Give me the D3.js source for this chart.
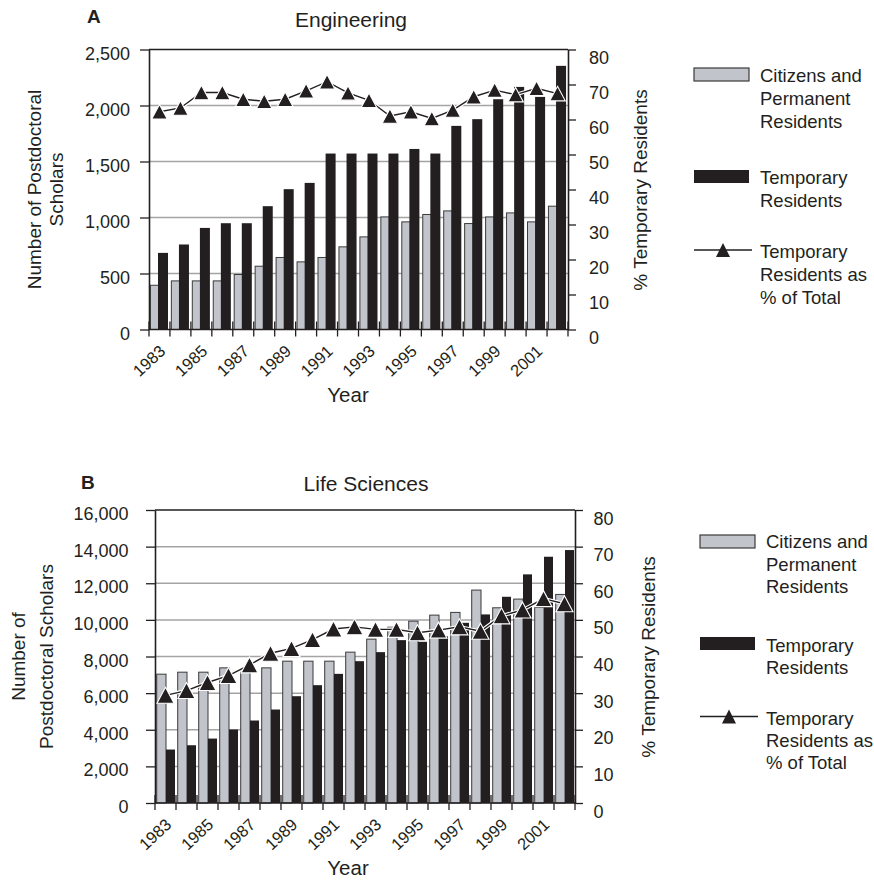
<!DOCTYPE html>
<html><head><meta charset="utf-8">
<script src="https://cdn.jsdelivr.net/npm/d3@7"></script>
<style>
body{margin:0;background:#fff}
svg{display:block}
text{font-family:"Liberation Sans",Arial,Helvetica,sans-serif;fill:#231f20}
</style>
</head><body>
<svg id="c" width="874" height="896"></svg>
<script>
// ---------------- DATA ----------------
const years = [1983,1984,1985,1986,1987,1988,1989,1990,1991,1992,1993,1994,1995,1996,1997,1998,1999,2000,2001,2002];
const yearLabels = [1983,1985,1987,1989,1991,1993,1995,1997,1999,2001];

// Panel A: Engineering
const engCitizens   = [395,434,434,434,491,565,643,604,643,738,827,1005,961,1027,1059,946,1005,1041,961,1101];
const engTemporary  = [684,759,907,949,949,1101,1253,1309,1571,1571,1571,1571,1612,1571,1818,1878,2056,2166,2077,2354];
const engPctTemporary = [62.2,63.3,67.7,67.7,65.8,65.2,65.8,68.2,70.8,67.6,65.5,61.0,62.2,60.3,62.7,66.5,68.4,67.1,68.9,67.4];
const engCountTicks = [0,500,1000,1500,2000,2500];

// Panel B: Life Sciences
const lsCitizens    = [7035,7144,7144,7380,7144,7380,7745,7745,7745,8238,8948,9600,9930,10260,10408,11627,10660,11135,10680,11390];
const lsTemporary   = [2919,3154,3518,4012,4504,5105,5832,6434,7052,7745,8238,8894,8804,9100,9839,10298,11261,12485,13447,13813];
const lsPctTemporary = [29.4,30.7,32.9,34.8,37.7,40.9,42.2,44.6,47.5,48.1,47.4,47.4,46.5,47.2,48.1,46.9,51.1,52.7,55.8,54.4];
const lsCountTicks = [0,2000,4000,6000,8000,10000,12000,14000,16000];

const pctTicks = [0,10,20,30,40,50,60,70,80];
const legendLabels = [
  ["Citizens and","Permanent","Residents"],
  ["Temporary","Residents"],
  ["Temporary","Residents as","% of Total"]
];

// ---------------- DRAW ----------------
const svg = d3.select("#c");
const INK = "#231f20", GRAY = "#c2c4cb";

function triPath(s, h){ return `M0,${-h/2}L${s/2},${h/2}L${-s/2},${h/2}Z`; }

function drawPanel(p){
  const g = svg.append("g");
  const x = d3.scaleBand().domain(years).range([p.left, p.right]);
  const xt = d3.scaleLinear().domain([0, years.length]).range([p.left, p.right]);
  const maxC = d3.max(p.countTicks);
  const yL = d3.scaleLinear().domain([0, maxC]).range([p.bottom, p.top]);
  const yR = d3.scaleLinear().domain([0, d3.max(pctTicks)]).range([p.bottom, p.top]);

  // gridlines
  g.selectAll(".grid").data(p.countTicks.filter(t => t > 0 && t < maxC)).join("line")
    .attr("x1", p.left).attr("x2", p.right)
    .attr("y1", d => yL(d)).attr("y2", d => yL(d))
    .attr("stroke", "#a4a4a4").attr("stroke-width", 1.5);

  // top border
  g.append("line").attr("x1", p.left).attr("x2", p.right)
    .attr("y1", yL(maxC)).attr("y2", yL(maxC))
    .attr("stroke", INK).attr("stroke-width", 1.6);

  // bars
  g.selectAll(".cit").data(years).join("rect")
    .attr("x", d => x(d) + p.grayOff).attr("width", p.grayW)
    .attr("y", (d,i) => yL(p.citizens[i]))
    .attr("height", (d,i) => yL(0) - yL(p.citizens[i]))
    .attr("fill", GRAY).attr("stroke", "#3b3b3b").attr("stroke-width", 1);
  g.selectAll(".tmp").data(years).join("rect")
    .attr("x", d => x(d) + p.blackOff).attr("width", p.blackW)
    .attr("y", (d,i) => yL(p.temporary[i]))
    .attr("height", (d,i) => yL(0) - yL(p.temporary[i]))
    .attr("fill", INK);

  // x ticks (crossing)
  g.selectAll(".xt").data(d3.range(years.length + 1)).join("line")
    .attr("x1", d => xt(d)).attr("x2", d => xt(d))
    .attr("y1", p.bottom - 8).attr("y2", p.bottom + 7)
    .attr("stroke", INK).attr("stroke-width", 1.3);

  // bottom axis line
  g.append("line").attr("x1", p.left).attr("x2", p.right)
    .attr("y1", p.bottom).attr("y2", p.bottom)
    .attr("stroke", INK).attr("stroke-width", 1.6);

  // left axis
  const la = g.append("g").attr("transform", `translate(${p.left},0)`)
    .call(d3.axisLeft(yL).tickValues(p.countTicks).tickFormat(d3.format(","))
      .tickSize(9).tickSizeOuter(0).tickPadding(p.leftPad));
  la.select(".domain").attr("stroke", INK).attr("stroke-width", 1.6);
  la.selectAll(".tick line").attr("stroke", INK).attr("stroke-width", 1.3);
  la.selectAll(".tick text").attr("dy", null).attr("y", 9.5)
    .attr("font-size", 18).attr("fill", INK).attr("font-family", null);

  // right axis
  const ra = g.append("g").attr("transform", `translate(${p.right},0)`)
    .call(d3.axisRight(yR).tickValues(pctTicks).tickSize(8).tickSizeOuter(0).tickPadding(p.rightPad));
  ra.select(".domain").attr("stroke", INK).attr("stroke-width", 1.6);
  ra.selectAll(".tick line").attr("stroke", INK).attr("stroke-width", 1.3);
  ra.selectAll(".tick text").attr("dy", null).attr("y", 14)
    .attr("font-size", 18).attr("fill", INK).attr("font-family", null);

  // line + markers
  const cx = d => x(d) + x.bandwidth()/2;
  const line = d3.line().x((d,i) => cx(years[i])).y(d => yR(d));
  g.append("path").datum(p.pct).attr("d", line)
    .attr("fill", "none").attr("stroke", "#fff").attr("stroke-width", 3.6);
  g.append("path").datum(p.pct).attr("d", line)
    .attr("fill", "none").attr("stroke", INK).attr("stroke-width", 1.4);
  g.selectAll(".mk").data(p.pct).join("path")
    .attr("d", triPath(p.triS, p.triH))
    .attr("transform", (d,i) => `translate(${cx(years[i])},${yR(d)})`)
    .attr("fill", INK).attr("stroke", "#fff").attr("stroke-width", 1.1);

  // x labels
  g.selectAll(".xl").data(yearLabels).join("text")
    .attr("text-anchor", "end").attr("font-size", 16.5)
    .attr("transform", d => `translate(${cx(d) + 7},${p.bottom + 23}) rotate(-43)`)
    .text(d => d);

  // axis titles
  g.append("text").attr("x", p.yearX).attr("y", p.bottom + 72).attr("text-anchor", "middle")
    .attr("font-size", 20.5).text("Year");
  p.leftTitle.forEach((t, i) => {
    g.append("text").attr("text-anchor", "middle").attr("font-size", 19)
      .attr("transform", `translate(${p.leftTitleX[i]},${(p.top + p.bottom)/2}) rotate(-90)`).text(t);
  });
  g.append("text").attr("text-anchor", "middle").attr("font-size", 19)
    .attr("transform", `translate(${p.rightTitleX},${p.rightTitleY}) rotate(-90)`)
    .text("% Temporary Residents");

  // panel letter + title
  g.append("text").attr("x", p.letterX).attr("y", p.letterY).attr("font-size", 19)
    .attr("font-weight", "bold").text(p.letter);
  g.append("text").attr("x", p.titleX).attr("y", p.titleY).attr("text-anchor", "middle")
    .attr("font-size", 21).text(p.title);

  // legend
  const L = p.legend;
  g.append("rect").attr("x", L.x).attr("y", L.y1).attr("width", 55).attr("height", 13)
    .attr("fill", GRAY).attr("stroke", "#3b3b3b").attr("stroke-width", 1.2);
  g.append("rect").attr("x", L.x).attr("y", L.y2).attr("width", 55).attr("height", 13)
    .attr("fill", INK);
  g.append("line").attr("x1", L.x).attr("x2", L.x + 58).attr("y1", L.y3).attr("y2", L.y3)
    .attr("stroke", INK).attr("stroke-width", 1.3);
  g.append("path").attr("d", triPath(14, 14))
    .attr("transform", `translate(${L.x + 29},${L.y3})`).attr("fill", INK);
  legendLabels.forEach((lines, k) => {
    lines.forEach((t, j) => {
      g.append("text").attr("x", L.tx).attr("y", L.base[k] + j * L.lh)
        .attr("font-size", 18.5).text(t);
    });
  });
}

drawPanel({
  left: 149, right: 568, top: 49.5, bottom: 329.5,
  countTicks: engCountTicks, citizens: engCitizens, temporary: engTemporary, pct: engPctTemporary,
  grayOff: 1.4, grayW: 8.5, blackOff: 9, blackW: 10,
  leftPad: 10, rightPad: 13, triS: 15.5, triH: 14.5,
  yearX: 348, leftTitle: ["Number of Postdoctoral", "Scholars"], leftTitleX: [41, 63],
  rightTitleX: 647, rightTitleY: 190,
  letter: "A", letterX: 87, letterY: 23, title: "Engineering", titleX: 351, titleY: 27,
  legend: {x: 694, y1: 68, y2: 170, y3: 250, tx: 760, base: [81.5, 184, 258], lh: 23}
});

drawPanel({
  left: 155, right: 575, top: 510, bottom: 803,
  countTicks: lsCountTicks, citizens: lsCitizens, temporary: lsTemporary, pct: lsPctTemporary,
  grayOff: 1.7, grayW: 9.3, blackOff: 11, blackW: 9,
  leftPad: 17.5, rightPad: 10.5, triS: 17, triH: 16,
  yearX: 348, leftTitle: ["Number of", "Postdoctoral Scholars"], leftTitleX: [25, 53],
  rightTitleX: 655, rightTitleY: 657,
  letter: "B", letterX: 81, letterY: 489, title: "Life Sciences", titleX: 366, titleY: 491,
  legend: {x: 700, y1: 535, y2: 637, y3: 716.5, tx: 766, base: [548.3, 651.7, 725], lh: 22.2}
});
</script>
</body></html>
